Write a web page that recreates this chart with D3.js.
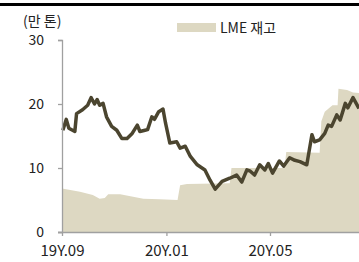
<!DOCTYPE html>
<html>
<head>
<meta charset="utf-8">
<script src="https://cdn.jsdelivr.net/npm/d3@7"></script>
<style>
body{margin:0;background:#fff}
text{font-family:"Noto Sans CJK KR","Noto Sans",sans-serif;fill:#222}
</style>
</head>
<body>
<div id="chart"></div>
<script>
// LME 재고 (area), 가격선 (line) - 만 톤
var stockDates=["2019-09-01","2019-09-22","2019-10-07","2019-10-15","2019-10-21","2019-10-25","2019-11-08","2019-11-23","2019-12-05","2019-12-24","2020-01-14","2020-01-17","2020-01-25","2020-03-15","2020-03-17","2020-05-18","2020-05-20","2020-06-28","2020-06-30","2020-07-04","2020-07-13","2020-07-19","2020-07-20","2020-07-30","2020-08-06","2020-08-13"]
var stockValues=[6.8,6.3,5.8,5.2,5.3,5.9,5.9,5.5,5.2,5.1,5.0,7.3,7.5,7.6,10.0,10.0,12.5,12.4,17.3,18.8,19.8,19.8,22.4,22.2,21.8,21.7]

var lineDates=["2019-09-02","2019-09-06","2019-09-09","2019-09-16","2019-09-18","2019-09-25","2019-10-01","2019-10-05","2019-10-09","2019-10-12","2019-10-15","2019-10-19","2019-10-23","2019-10-29","2019-11-04","2019-11-10","2019-11-16","2019-11-22","2019-11-28","2019-12-01","2019-12-07","2019-12-10","2019-12-15","2019-12-18","2019-12-23","2019-12-28","2019-12-31","2020-01-05","2020-01-13","2020-01-17","2020-01-23","2020-01-29","2020-02-06","2020-02-15","2020-02-21","2020-02-27","2020-03-06","2020-03-15","2020-03-23","2020-03-29","2020-04-04","2020-04-08","2020-04-13","2020-04-19","2020-04-25","2020-04-29","2020-05-04","2020-05-12","2020-05-17","2020-05-24","2020-05-30","2020-06-05","2020-06-13","2020-06-19","2020-06-22","2020-06-28","2020-07-04","2020-07-08","2020-07-12","2020-07-18","2020-07-22","2020-07-28","2020-07-31","2020-08-06","2020-08-11","2020-08-13"]
var lineValues=[15.9,17.6,16.2,15.7,18.5,19.1,19.8,21.0,20.0,20.7,19.8,20.1,18.0,16.5,15.9,14.6,14.6,15.4,16.7,15.7,15.9,16.0,18.0,17.6,18.8,19.2,17.0,13.9,14.1,13.1,13.4,11.8,10.5,9.7,8.1,6.7,7.9,8.4,8.9,7.8,9.7,9.5,8.9,10.5,9.7,10.7,9.2,11.1,10.3,11.6,11.2,11.0,10.5,15.2,14.1,14.4,15.4,16.7,16.5,18.3,17.5,20.1,19.4,21.0,19.8,19.3]

var yTicks=[0,10,20,30]
var xTickDates=["2019-09-01","2020-01-01","2020-05-01"]
var unitLabel="(만 톤)"
var legendLabel="LME 재고"

var svgWidth=359
var svgHeight=262
var margin={top:40,bottom:30,left:62,right:0}
var chartWidth=svgWidth-margin.left-margin.right
var chartHeight=232-margin.top

var parse=d3.timeParse("%Y-%m-%d")
var stock=stockDates.map((d,i)=>({date:parse(d),value:stockValues[i]}))
var line=lineDates.map((d,i)=>({date:parse(d),value:lineValues[i]}))

var svg=d3.select("#chart").append("svg")
    .attr("width",svgWidth)
    .attr("height",svgHeight)

svg.append("rect").attr("x",0).attr("y",3).attr("width",svgWidth).attr("height",3).attr("fill","#000")

var chartGroup=svg.append("g").attr("transform",`translate(${margin.left}, ${margin.top})`)

var x=d3.scaleTime()
    .domain([parse("2019-09-01"),parse("2020-08-13")])
    .range([0,chartWidth])
var y=d3.scaleLinear().domain([0,30]).range([chartHeight,0])

chartGroup.append("path")
    .datum(stock)
    .attr("fill","#ddd8c2")
    .attr("d",d3.area().x(d=>x(d.date)).y0(y(0)).y1(d=>y(d.value)))

chartGroup.append("path")
    .datum(line)
    .attr("fill","none")
    .attr("stroke","#4b452f")
    .attr("stroke-width",3.5)
    .attr("stroke-linejoin","round")
    .attr("d",d3.line().x(d=>x(d.date)).y(d=>y(d.value)))

var leftAxis=d3.axisLeft(y).tickValues(yTicks).tickSize(4).tickPadding(14)
var gy=chartGroup.append("g").call(leftAxis)
var bottomAxis=d3.axisBottom(x).tickValues(xTickDates.map(parse)).tickFormat(d3.timeFormat("%yY.%m")).tickSize(4).tickSizeOuter(0).tickPadding(9)
var gx=chartGroup.append("g").attr("transform",`translate(0, ${chartHeight})`).call(bottomAxis)

svg.selectAll(".domain, .tick line").attr("stroke","#a0a0a0").attr("stroke-width",1.3)
svg.selectAll(".tick text").attr("font-size",14).attr("fill","#222").attr("font-family","'Noto Sans CJK KR',sans-serif")
gx.selectAll(".tick text").attr("font-size",15)
gy.selectAll(".tick text").attr("dy","0.3em")
gx.select(".domain").attr("d",`M-4,0.5H${chartWidth}`)

svg.append("text").attr("x",23).attr("y",26).attr("font-size",14).text(unitLabel)

svg.append("rect").attr("x",177).attr("y",23).attr("width",39).attr("height",9).attr("fill","#ddd8c2")
svg.append("text").attr("x",220).attr("y",33).attr("font-size",14).text(legendLabel)
</script>
</body>
</html>
